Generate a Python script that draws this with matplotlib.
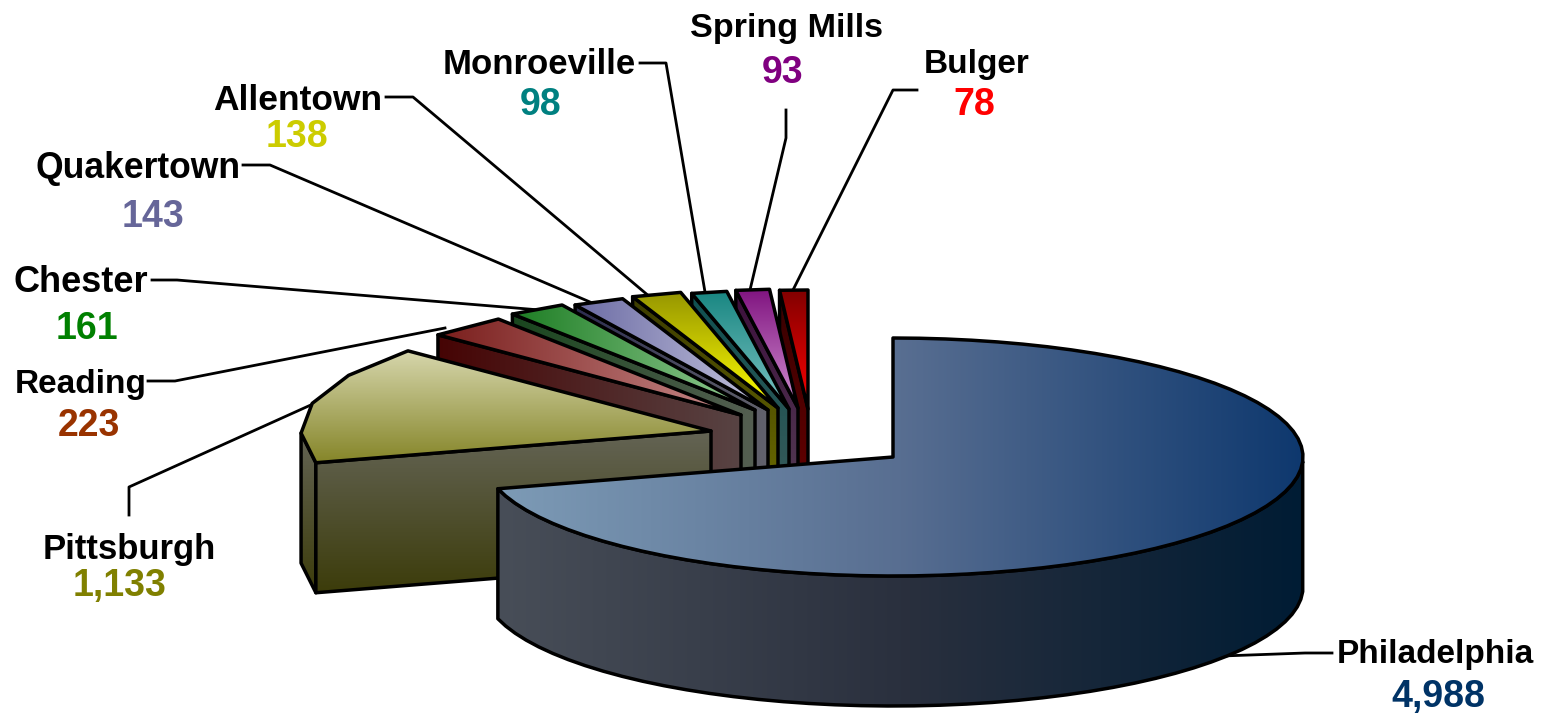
import numpy as np
import matplotlib
matplotlib.use('Agg')
import matplotlib.pyplot as plt
from matplotlib.patches import Polygon

cities = ['Philadelphia', 'Pittsburgh', 'Reading', 'Chester', 'Quakertown',
          'Allentown', 'Monroeville', 'Spring Mills', 'Bulger']
values = [4988, 1133, 223, 161, 143, 138, 98, 93, 78]
value_colors = ['#003366', '#808000', '#993300', '#008000', '#666699',
                '#CCCC00', '#008080', '#800080', '#FF0000']

# pie geometry in pixels
cx, cy = 893, 457
rx, ry = 410, 119
depth = 130
# where each slice's tip ended up after being pulled out of the pie
tips = [(893, 457), (711, 431), (741, 415), (755, 410), (768, 410),
        (778, 408), (789, 409), (798, 408), (808, 409)]
# points on each outer arc, the original is drawn with rough chords
arc_points = [70, 5, 2, 2, 2, 2, 2, 2, 2]

# gradient colours: direction, then evenly spaced stops
top_fill = [('h', (125, 155, 182), (88, 110, 145), (14, 56, 110)),
            ('v', (214, 214, 172), (133, 133, 40)),
            ('h', (122, 30, 28), (200, 140, 140)),
            ('h', (28, 125, 35), (150, 205, 150)),
            ('h', (108, 108, 165), (195, 195, 220)),
            ('v', (150, 150, 0), (255, 255, 0)),
            ('v', (25, 135, 130), (125, 195, 195)),
            ('v', (128, 20, 128), (210, 145, 210)),
            ('v', (130, 0, 0), (255, 0, 0))]
side_fill = [('h', (72, 78, 88), (42, 48, 62), (0, 28, 52)),
             ('v', (100, 100, 85), (60, 60, 10)),
             ('h', (70, 4, 4), (88, 68, 68)),
             ('h', (25, 70, 30), (85, 95, 82)),
             ('h', (45, 45, 80), (98, 98, 108)),
             ('v', (60, 60, 0), (115, 115, 0)),
             ('v', (15, 80, 80), (65, 92, 92)),
             ('v', (60, 15, 60), (88, 68, 88)),
             ('v', (55, 0, 0), (110, 0, 0))]

# label layout: name centre, value centre, leader line
name_pos = [(1435, 654), (129, 549), (81, 385), (81, 283), (138, 168),
            (298, 100), (539, 64), (787, 28), (977, 65)]
name_size = [24, 25, 24, 26, 25.6, 25.5, 25, 24.6, 24]
value_pos = [(1438, 697), (120, 586), (89, 426), (87, 329), (153, 217),
             (297, 137), (541, 105), (783, 73), (974, 105)]
leaders = [[(1332, 653), (1305, 653), (1222, 656)],
           [(129, 515), (129, 487), (313, 404)],
           [(148, 381), (175, 381), (445, 328)],
           [(152, 280), (177, 280), (540, 310)],
           [(243, 165), (270, 165), (590, 302)],
           [(386, 97), (413, 97), (650, 297)],
           [(640, 63), (666, 63), (705, 292)],
           [(786, 110), (786, 138), (750, 290)],
           [(917, 90), (893, 90), (793, 290)]]

fig = plt.figure(figsize=(15.48, 7.13), dpi=100)
ax = fig.add_axes([0, 0, 1, 1])
ax.set_xlim(0, 1548)
ax.set_ylim(713, 0)
ax.axis('off')

order = [0]


def next_z():
    order[0] += 1
    return order[0]


def fill(points, style):
    # gradient image clipped to the polygon, outline on top
    points = np.array(points)
    direction = style[0]
    stops = np.array(style[1:], dtype=float)
    pos = np.linspace(0, 1, len(stops))
    ramp = np.linspace(0, 1, 256)
    img = np.column_stack([np.interp(ramp, pos, stops[:, k]) for k in range(3)]) / 255
    img = img[:, None, :] if direction == 'v' else img[None, :, :]
    x0, x1 = points[:, 0].min(), points[:, 0].max()
    y0, y1 = points[:, 1].min(), points[:, 1].max()
    z = next_z()
    im = ax.imshow(img, extent=(x0, x1, y1, y0), aspect='auto', zorder=z,
                   interpolation='bilinear')
    clip = Polygon(points, closed=True, transform=ax.transData)
    im.set_clip_path(clip)
    ax.add_patch(Polygon(points, closed=True, fill=False, edgecolor='black',
                         linewidth=2.5, joinstyle='round', zorder=z + 0.5))


def rim(tip, a0, a1, n=60):
    t = np.radians(np.linspace(a0, a1, n))
    return np.column_stack([tip[0] + rx * np.sin(t), tip[1] - ry * np.cos(t)])


for line in leaders:
    xs, ys = zip(*line)
    ax.plot(xs, ys, color='black', linewidth=2.0, zorder=0.5)
order[0] = 1

edges = np.cumsum([0] + values) / sum(values) * 360

# back slices first, Philadelphia last
for i in range(len(values) - 1, -1, -1):
    a0, a1 = edges[i], edges[i + 1]
    tip = tips[i]
    outer = rim(tip, a0, a1, arc_points[i])
    # outer wall, only where the arc faces the viewer
    angles = np.linspace(a0, a1, len(outer))
    keep = (angles >= 90) & (angles <= 272)
    if keep.sum() >= 2:
        arc = outer[keep]
        fill(np.vstack([arc, arc[::-1] + [0, depth]]), side_fill[i])
    # cut face on the start edge of the pulled out slices
    if i > 0:
        p = outer[0]
        fill([tip, p, (p[0], p[1] + depth), (tip[0], tip[1] + depth)], side_fill[i])
    fill(np.vstack([[tip], outer]), top_fill[i])

font = 'Liberation Sans'
for i, city in enumerate(cities):
    ax.text(*name_pos[i], city, ha='center', va='center', family=font,
            weight='bold', fontsize=name_size[i], color='black', zorder=100)
    ax.text(*value_pos[i], f'{values[i]:,}', ha='center', va='center', family=font,
            weight='bold', fontsize=27, color=value_colors[i], zorder=100)

fig.savefig('out.png', dpi=100)
